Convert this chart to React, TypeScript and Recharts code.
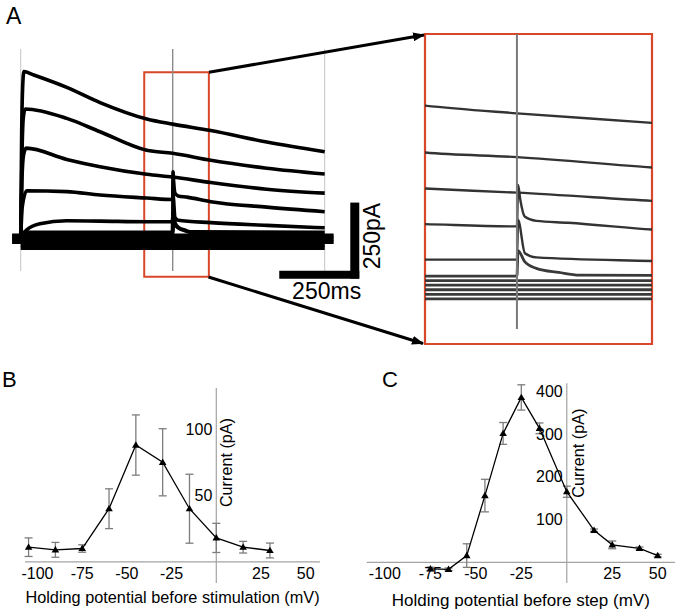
import React from "react";
import {
  LineChart,
  Line,
  XAxis,
  YAxis,
  ErrorBar,
  ReferenceLine,
  ReferenceDot,
  ReferenceArea,
} from "recharts";

const FONT = '"Liberation Sans", Arial, Helvetica, sans-serif';
const RED = "#d9472b";
const AXIS = "#a3a3a3";

// ---- panel A: current traces, [time (ms), current (pA)]
const trace1 = [[0, 5], [3, 350], [6, 500], [10, 554], [40, 543], [144, 502], [248, 452], [394, 398], [475, 381], [594, 360], [769, 322], [950, 290]];
const trace2 = [[0, 5], [4, 280], [8, 400], [14, 431], [144, 400], [248, 356], [394, 295], [475, 285], [594, 262], [769, 236], [950, 217]];
const trace3 = [[0, 5], [4, 200], [9, 280], [17, 302], [144, 265], [248, 241], [394, 216], [475, 207], [594, 189], [769, 167], [950, 154]];
const trace4 = [[0, 5], [5, 110], [19, 162], [144, 159], [248, 148], [394, 138], [475, 133], [476, 224], [478, 191], [482, 154], [492, 145], [520, 141], [594, 126], [769, 108], [950, 93]];
const trace5 = [[0, 5], [19, 33], [60, 53], [144, 63], [248, 62], [394, 60], [475, 60], [476, 147], [482, 74], [492, 65], [594, 57], [769, 48], [950, 40]];
const baseline1 = [[0, 24], [475, 24], [476, 80], [482, 55], [492, 41], [512, 32], [530, 26], [950, 24]];
const baseline2 = [[-27, 14], [978, 14]];
const baseline3 = [[-27, 4], [978, 4]];
const baseline4 = [[-27, -6], [978, -6]];
const baseline5 = [[0, -16], [950, -16]];
const baseline6 = [[0, -26], [950, -26]];

const traces = [trace1, trace2, trace3, trace4, trace5];
const baselines = [baseline1, baseline2, baseline3, baseline4, baseline5, baseline6];

const STIM_MS = 475;
const SWEEP_END_MS = 950;
const SCALE_MS = 250;
const SCALE_PA = 250;

// ---- panel B
const bVoltage = [-105, -90, -75, -60, -45, -30, -15, 0, 15, 30];
const bCurrent = [11, 9, 10, 40, 88, 75, 40, 18, 11, 8.5];
const bSem = [7, 5.6, 2.8, 15, 22.7, 25.3, 26, 11, 4.4, 5.6];
const bXTicks = [-100, -75, -50, -25, 25, 50];
const bYTicks = [100, 50];

// ---- panel C
const cVoltage = [-75, -65, -55, -45, -35, -25, -15, 0, 15, 25, 40, 50];
const cCurrent = [-15, -16, 16, 156, 301, 385, 313, 165, 75, 41, 33, 16];
const cSem = [4, 3, 27.5, 38, 25.5, 29.5, 12.5, 13, 3, 9, 3, 3];
const cXTicks = [-100, -75, -50, -25, 25, 50];
const cYTicks = [400, 300, 200, 100];

const toPts = (arr: number[][]) => arr.map(([t, i]) => ({ t, i }));
const bData = bVoltage.map((x, k) => ({ x, y: bCurrent[k], e: bSem[k] }));
const cData = cVoltage.map((x, k) => ({ x, y: cCurrent[k], e: cSem[k] }));

const triangle = (p: any) => (
  <path
    key={`tri-${p.index}`}
    d={`M${p.cx},${p.cy - 3.8}L${p.cx + 3.8},${p.cy + 2.6}L${p.cx - 3.8},${p.cy + 2.6}Z`}
    fill="#000"
  />
);

function TracesChart() {
  return (
    <div style={{ position: "absolute", left: 0, top: 0 }}>
      <LineChart
        width={400}
        height={310}
        margin={{ top: 45.4, right: 20.9, bottom: 15.3, left: 9.5 }}
      >
        <XAxis type="number" dataKey="t" domain={[-35, 1120]} hide allowDataOverflow />
        <YAxis type="number" dataKey="i" domain={[-180, 640]} hide allowDataOverflow />
        {[0, STIM_MS, SWEEP_END_MS].map((t) => (
          <ReferenceLine
            key={t}
            segment={[{ x: t, y: -102 }, { x: t, y: 628 }]}
            stroke={t === STIM_MS ? "#8c8c8c" : "#c4c4c4"}
            strokeWidth={t === STIM_MS ? 1.4 : 1}
          />
        ))}
        {baselines.map((b, k) => (
          <Line
            key={`b${k}`}
            data={toPts(b)}
            dataKey="i"
            type="monotone"
            stroke="#000"
            strokeWidth={4.2}
            dot={false}
            isAnimationActive={false}
          />
        ))}
        {traces.map((tr, k) => (
          <Line
            key={`t${k}`}
            data={toPts(tr)}
            dataKey="i"
            type="monotone"
            stroke="#000"
            strokeWidth={3.6}
            dot={false}
            isAnimationActive={false}
          />
        ))}
        <ReferenceArea
          x1={386}
          x2={588}
          y1={-121}
          y2={552}
          fill="none"
          fillOpacity={0}
          stroke={RED}
          strokeWidth={2}
        />
        <ReferenceLine
          segment={[{ x: 808, y: -114 }, { x: 808 + SCALE_MS, y: -114 }]}
          stroke="#000"
          strokeWidth={8}
        />
        <ReferenceLine
          segment={[{ x: 1044, y: -127 }, { x: 1044, y: -127 + SCALE_PA }]}
          stroke="#000"
          strokeWidth={9}
        />
        <ReferenceDot
          x={956}
          y={-166}
          r={0}
          fill="none"
          stroke="none"
          label={{ value: `${SCALE_MS}ms`, position: "center", fill: "#000", fontSize: 23, fontFamily: FONT }}
        />
        <ReferenceDot
          x={1097}
          y={13}
          r={0}
          fill="none"
          stroke="none"
          label={{ value: `${SCALE_PA}pA`, position: "center", angle: -90, fill: "#000", fontSize: 23, fontFamily: FONT }}
        />
      </LineChart>
    </div>
  );
}

function InsetChart() {
  return (
    <div style={{ position: "absolute", left: 423, top: 32 }}>
      <LineChart width={231} height={314} margin={{ top: 2, right: 2, bottom: 2, left: 2 }}>
        <XAxis type="number" dataKey="t" domain={[394, 594]} hide allowDataOverflow />
        <YAxis type="number" dataKey="i" domain={[-125, 555]} hide allowDataOverflow />
        {baselines.map((b, k) => (
          <Line
            key={`ib${k}`}
            data={toPts(b)}
            dataKey="i"
            type="monotone"
            stroke="#3a3a3a"
            strokeWidth={2.8}
            dot={false}
            isAnimationActive={false}
          />
        ))}
        {traces.map((tr, k) => (
          <Line
            key={`it${k}`}
            data={toPts(tr)}
            dataKey="i"
            type="monotone"
            stroke="#333"
            strokeWidth={2.4}
            dot={false}
            isAnimationActive={false}
          />
        ))}
        <ReferenceLine
          segment={[{ x: STIM_MS, y: -92 }, { x: STIM_MS, y: 555 }]}
          stroke="#7a7a7a"
          strokeWidth={2}
        />
        <ReferenceArea
          x1={394}
          x2={594}
          y1={-125}
          y2={555}
          fill="none"
          fillOpacity={0}
          stroke={RED}
          strokeWidth={2.2}
        />
      </LineChart>
    </div>
  );
}

type IVProps = {
  data: { x: number; y: number; e: number }[];
  left: number;
  width: number;
  margin: { top: number; right: number; bottom: number; left: number };
  xDomain: [number, number];
  yDomain: [number, number];
  xTicks: number[];
  yTicks: number[];
  xLabel: string;
  xLabelSize: number;
  xLabelOffset: number;
  yLabelAt: { x: number; y: number };
};

function IVChart(p: IVProps) {
  return (
    <div style={{ position: "absolute", left: p.left, top: 370 }}>
      <LineChart width={p.width} height={245} data={p.data} margin={p.margin}>
        <XAxis
          type="number"
          dataKey="x"
          domain={p.xDomain}
          ticks={p.xTicks}
          interval={0}
          allowDataOverflow
          axisLine={false}
          tickLine={false}
          tickSize={0}
          tickMargin={0}
          height={30}
          tick={{ fill: "#000", fontSize: 16, fontFamily: FONT, dy: -15 }}
          label={{
            value: p.xLabel,
            position: "insideBottom",
            offset: p.xLabelOffset,
            fill: "#000",
            fontSize: p.xLabelSize,
            fontFamily: FONT,
          }}
        />
        <YAxis type="number" dataKey="y" domain={p.yDomain} hide allowDataOverflow />
        <ReferenceLine y={0} stroke={AXIS} strokeWidth={1.2} />
        <ReferenceLine x={0} stroke={AXIS} strokeWidth={1.2} />
        {p.yTicks.map((v) => (
          <ReferenceDot
            key={v}
            x={0}
            y={v}
            r={0}
            fill="none"
            stroke="none"
            label={{ value: String(v), position: "left", offset: 4, fill: "#000", fontSize: 16, fontFamily: FONT }}
          />
        ))}
        <ReferenceDot
          x={p.yLabelAt.x}
          y={p.yLabelAt.y}
          r={0}
          fill="none"
          stroke="none"
          label={{ value: "Current (pA)", position: "center", angle: -90, fill: "#000", fontSize: 16.2, fontFamily: FONT }}
        />
        <Line
          dataKey="y"
          type="linear"
          stroke="#000"
          strokeWidth={1.3}
          dot={triangle}
          activeDot={false}
          isAnimationActive={false}
        >
          <ErrorBar dataKey="e" direction="y" width={4} stroke="#7d7d7d" strokeWidth={1.3} />
        </Line>
      </LineChart>
    </div>
  );
}

export default function App() {
  return (
    <div
      style={{
        position: "absolute",
        left: 0,
        top: 0,
        width: 683,
        height: 615,
        background: "#fff",
        fontFamily: FONT,
        overflow: "hidden",
      }}
    >
      <TracesChart />
      <InsetChart />
      <IVChart
        data={bData}
        left={0}
        width={340}
        margin={{ top: 18, right: 20, bottom: 2, left: 25 }}
        xDomain={[-107, 58]}
        yDomain={[-16, 131]}
        xTicks={bXTicks}
        yTicks={bYTicks}
        xLabel="Holding potential before stimulation (mV)"
        xLabelSize={16.3}
        xLabelOffset={9.7}
        yLabelAt={{ x: 5.6, y: 74.8 }}
      />
      <IVChart
        data={cData}
        left={345}
        width={338}
        margin={{ top: 13.3, right: 8, bottom: 2, left: 21.7 }}
        xDomain={[-110, 59.5]}
        yDomain={[-48, 418]}
        xTicks={cXTicks}
        yTicks={cYTicks}
        xLabel="Holding potential before step (mV)"
        xLabelSize={17}
        xLabelOffset={7}
        yLabelAt={{ x: 6.3, y: 255 }}
      />
      <svg
        width={683}
        height={615}
        style={{ position: "absolute", left: 0, top: 0, pointerEvents: "none" }}
      >
        <defs>
          <marker
            id="arrowHead"
            viewBox="0 0 12 9"
            refX="11"
            refY="4.5"
            markerWidth="12"
            markerHeight="9"
            markerUnits="userSpaceOnUse"
            orient="auto"
          >
            <path d="M0,0 L12,4.5 L0,9 Z" fill="#000" />
          </marker>
        </defs>
        <line x1={209} y1={72.3} x2={424} y2={35} stroke="#000" strokeWidth={3} markerEnd="url(#arrowHead)" />
        <line x1={208.5} y1={277} x2={423} y2={343.5} stroke="#000" strokeWidth={3} markerEnd="url(#arrowHead)" />
        <text x={6} y={24} fontSize={23} fontFamily={FONT} fill="#000">A</text>
        <text x={2} y={387} fontSize={22} fontFamily={FONT} fill="#000">B</text>
        <text x={382} y={387} fontSize={22} fontFamily={FONT} fill="#000">C</text>
      </svg>
    </div>
  );
}
